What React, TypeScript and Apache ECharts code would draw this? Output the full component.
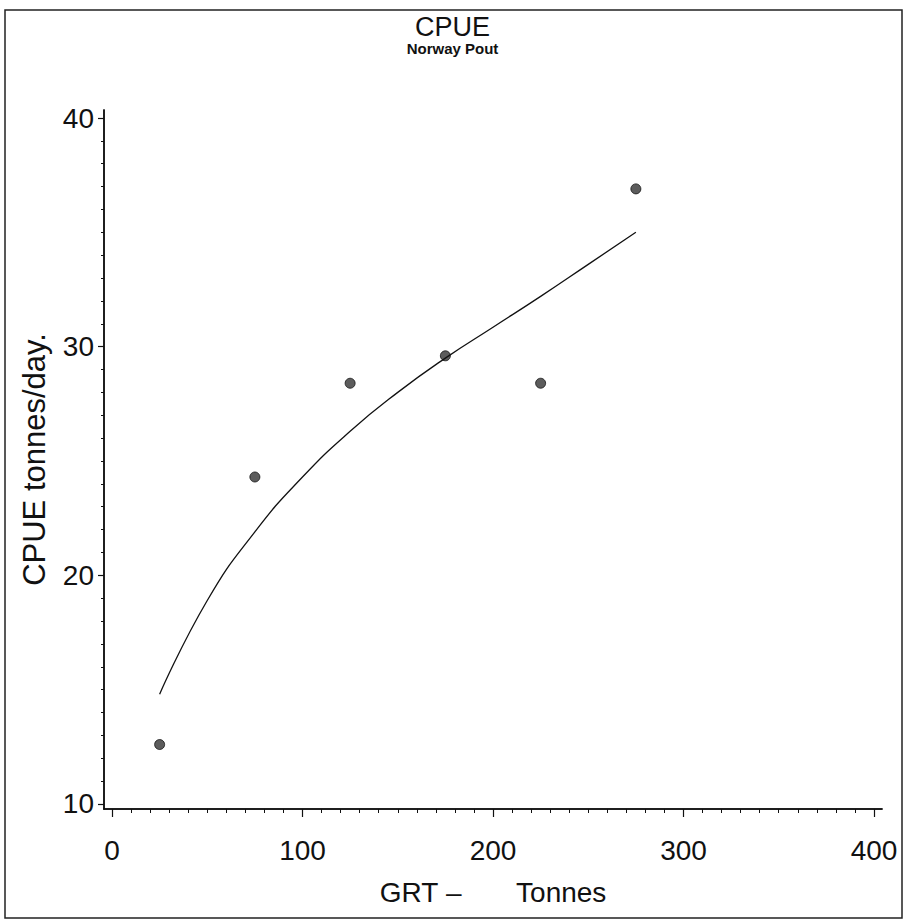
import React, { useEffect, useRef } from "react";
import * as echarts from "echarts";

// Data
const xMajorTicks = [0, 100, 200, 300, 400];
const yMajorTicks = [10, 20, 30, 40];
const grt = [25, 75, 125, 175, 225, 275];
const cpue = [12.6, 24.3, 28.4, 29.6, 28.4, 36.9];
const fitX = [25, 50, 75, 100, 125, 150, 175, 200, 225, 250, 275];
const fitY = [14.8, 18.9, 21.9, 24.3, 26.3, 28.0, 29.5, 30.85, 32.2, 33.6, 35.0];

const xMinorStep = 10;
const yMinorStep = 1;

const FONT = "Liberation Sans, Arial, Helvetica, sans-serif";

function range(a: number, b: number, step: number): number[] {
  const out: number[] = [];
  for (let v = a; v <= b + 1e-9; v += step) out.push(Math.round(v * 1000) / 1000);
  return out;
}

export default function App() {
  const ref = useRef<HTMLDivElement>(null);
  useEffect(() => {
    if (!ref.current) return;
    const chart = echarts.init(ref.current, null, { renderer: "svg" });
    const xMinor = range(xMajorTicks[0], xMajorTicks[xMajorTicks.length - 1], xMinorStep);
    const yMinor = range(yMajorTicks[0], yMajorTicks[yMajorTicks.length - 1], yMinorStep);
    const xMin = -4.2, xMax = 404.2, yMin = 9.78, yMax = 40.35;
    const axisColor = "#111";
    chart.setOption({
      animation: false,
      backgroundColor: "#ffffff",
      title: {
        text: "CPUE",
        subtext: "Norway Pout",
        left: "center",
        top: 13,
        padding: 0,
        itemGap: 1,
        textStyle: { fontFamily: FONT, fontSize: 27, fontWeight: "normal", color: "#111" },
        subtextStyle: { fontFamily: FONT, fontSize: 15, fontWeight: "bold", color: "#111" },
      },
      graphic: [
        {
          type: "rect",
          shape: { x: 5, y: 10, width: 897, height: 908 },
          style: { fill: "none", stroke: "#222", lineWidth: 1.5 },
          silent: true,
        },
      ],
      grid: { left: 104, top: 110, right: 23, bottom: 112, containLabel: false },
      xAxis: [
        {
          type: "value",
          min: xMin,
          max: xMax,
          name: "GRT\u00A0\u2013" + "\u00A0".repeat(7) + "Tonnes",
          nameLocation: "middle",
          nameGap: 69,
          nameTextStyle: { fontFamily: FONT, fontSize: 28, color: "#111" },
          axisLine: { show: true, onZero: false, lineStyle: { color: axisColor, width: 1.5 } },
          axisTick: { show: true, customValues: xMajorTicks, length: 8, lineStyle: { color: axisColor, width: 1.2 } },
          axisLabel: { show: true, customValues: xMajorTicks, margin: 27, fontFamily: FONT, fontSize: 28, color: "#111" },
          splitLine: { show: false },
        },
        {
          type: "value",
          position: "bottom",
          offset: 0,
          min: xMin,
          max: xMax,
          axisLine: { show: true, onZero: false, lineStyle: { color: axisColor, width: 1.5 } },
          axisTick: { show: true, customValues: xMinor, length: 4, lineStyle: { color: axisColor, width: 1 } },
          axisLabel: { show: true, customValues: xMinor, formatter: () => "" },
          splitLine: { show: false },
        },
      ],
      yAxis: [
        {
          type: "value",
          min: yMin,
          max: yMax,
          name: "CPUE tonnes/day.",
          nameLocation: "middle",
          nameGap: 54,
          nameRotate: 90,
          nameTextStyle: { fontFamily: FONT, fontSize: 31, color: "#111" },
          axisLine: { show: true, onZero: false, lineStyle: { color: axisColor, width: 1.5 } },
          axisTick: { show: true, customValues: yMajorTicks, length: 6, lineStyle: { color: axisColor, width: 1.2 } },
          axisLabel: { show: true, customValues: yMajorTicks, margin: 10, fontFamily: FONT, fontSize: 28, color: "#111" },
          splitLine: { show: false },
        },
        {
          type: "value",
          position: "left",
          offset: 0,
          min: yMin,
          max: yMax,
          axisLine: { show: true, onZero: false, lineStyle: { color: axisColor, width: 1.5 } },
          axisTick: { show: true, customValues: yMinor, length: 3, lineStyle: { color: axisColor, width: 1 } },
          axisLabel: { show: true, customValues: yMinor, formatter: () => "" },
          splitLine: { show: false },
        },
      ],
      series: [
        {
          type: "line",
          name: "fit",
          xAxisIndex: 0,
          yAxisIndex: 0,
          data: fitX.map((x, i) => [x, fitY[i]]),
          smooth: 0.5,
          showSymbol: false,
          symbol: "none",
          lineStyle: { color: "#111", width: 1.3 },
          silent: true,
        },
        {
          type: "scatter",
          name: "CPUE",
          xAxisIndex: 0,
          yAxisIndex: 0,
          data: grt.map((x, i) => [x, cpue[i]]),
          symbol: "circle",
          symbolSize: 10,
          itemStyle: { color: "#333", borderColor: "#111", borderWidth: 1 },
        },
      ],
    });
    return () => chart.dispose();
  }, []);
  return (
    <div
      ref={ref}
      style={{ position: "fixed", left: 0, top: 0, width: 905, height: 921, background: "#fff" }}
    />
  );
}
